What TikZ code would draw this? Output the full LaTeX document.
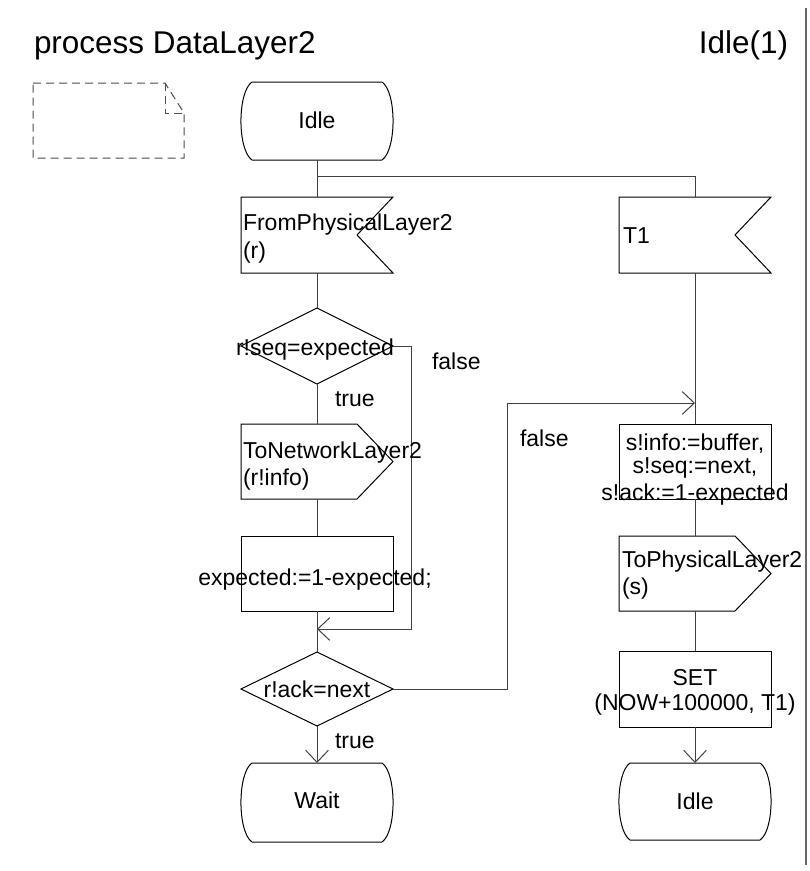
\documentclass[tikz,border=0pt]{standalone}
\usepackage{fontspec}
\setmainfont{Liberation Sans}
\usetikzlibrary{arrows.meta}
\begin{document}
\begin{tikzpicture}[x=0.75pt,y=-0.75pt,
  shp/.style={draw=black,line width=0.75pt},
  ln/.style={draw=black!75,line width=0.75pt},
  arr/.style={-{Straight Barb[length=9pt,width=17pt]}},
  ghost/.style={draw=none,rectangle,inner sep=0,outer sep=0,minimum width=114pt},
  txt/.style={inner sep=0,outer sep=0,font=\fontsize{17.25}{20}\selectfont},
  ttl/.style={inner sep=0,outer sep=0,font=\fontsize{23.6}{28}\selectfont},
  note/.style={draw=black!70,line width=0.75pt,dash pattern=on 6pt off 3.75pt}
]
\useasboundingbox (0,0) rectangle (810,871);

% shape anchors
\node[ghost,minimum height=58.5pt] (idle1) at (317,121) {};
\node[ghost,minimum height=57pt] (from) at (317,235) {};
\node[ghost,minimum height=57pt] (t1) at (695,235) {};
\node[ghost,minimum height=57pt] (dec1) at (317,346) {};
\node[ghost,minimum height=56.25pt] (tonet) at (317,461.5) {};
\node[ghost,minimum height=56.25pt] (exp) at (317,573.5) {};
\node[ghost,minimum height=55.5pt] (dec2) at (317,689) {};
\node[ghost,minimum height=59.25pt] (wait) at (317,802.5) {};
\node[ghost,minimum height=56.25pt] (tsk) at (695,461.5) {};
\node[ghost,minimum height=56.25pt] (tophys) at (695,573.5) {};
\node[ghost,minimum height=57pt] (set) at (695,689) {};
\node[ghost,minimum height=57.75pt] (idle2) at (695,801.5) {};

% outlines
\foreach \s in {idle1,wait,idle2}{
  \draw[shp] ([xshift=8.25pt]\s.north west) -- ([xshift=-8.25pt]\s.north east)
    .. controls ([xshift=2.8pt,yshift=-7.5pt]\s.north east) and ([xshift=2.8pt,yshift=7.5pt]\s.south east) .. ([xshift=-8.25pt]\s.south east)
    -- ([xshift=8.25pt]\s.south west)
    .. controls ([xshift=-2.8pt,yshift=7.5pt]\s.south west) and ([xshift=-2.8pt,yshift=-7.5pt]\s.north west) .. cycle;
}
\foreach \s in {from,t1}{
  \draw[shp] (\s.north west) -- (\s.north east) -- ([xshift=-27pt]\s.east) -- (\s.south east) -- (\s.south west) -- cycle;
}
\foreach \s in {tonet,tophys}{
  \draw[shp] (\s.north west) -- ([xshift=-27pt]\s.north east) -- (\s.east) -- ([xshift=-27pt]\s.south east) -- (\s.south west) -- cycle;
}
\foreach \s in {dec1,dec2}{
  \draw[shp] (\s.north) -- (\s.east) -- (\s.south) -- (\s.west) -- cycle;
}
\foreach \s in {exp,tsk,set}{
  \draw[shp] (\s.north west) rectangle (\s.south east);
}

% note symbol
\draw[note] (33,83) -- (165,83) -- (184,113) -- (184,158) -- (33,158) -- cycle;
\draw[note] (165,83) -- (165,113) -- (184,113);

% page border line
\draw[draw=black!60,line width=1.4pt] (806,8) -- (806,865);

% connectors
\coordinate (j1) at (317,176);
\coordinate (c1) at (411,629);
\coordinate (m1) at (317,629);
\coordinate (c2) at (507,403);
\coordinate (m2) at (695,403);
\draw[ln] (idle1.south) -- (from.north);
\draw[ln] (j1) -| (t1.north);
\draw[ln] (from.south) -- (dec1.north);
\draw[ln] (dec1.south) -- (tonet.north);
\draw[ln] (tonet.south) -- (exp.north);
\draw[ln] (exp.south) -- (dec2.north);
\draw[ln,arr] (dec1.east) -| (c1) -- (m1);
\draw[ln,arr] (dec2.east) -| (c2) -- (m2);
\draw[ln,arr] (dec2.south) -- (wait.north);
\draw[ln] (t1.south) -- (tsk.north);
\draw[ln] (tsk.south) -- (tophys.north);
\draw[ln] (tophys.south) -- (set.north);
\draw[ln,arr] (set.south) -- (idle2.north);

% texts
\node[ttl,anchor=base west] (title) at (34,53) {process DataLayer2};
\node[ttl,anchor=base east] (page) at (788,53) {Idle(1)};
\node[txt,anchor=base] (tidle1) at (317,128) {Idle};
\node[txt,anchor=base west] (tfrom1) at (243,230) {FromPhysicalLayer2};
\node[txt,anchor=base west] (tfrom2) at (243,258) {(r)};
\node[txt,anchor=base west] (tt1) at (623,243) {T1};
\node[txt,anchor=base] (tdec1) at (315,355) {r!seq=expected};
\node[txt,anchor=base west] (tfalse1) at (432,369) {false};
\node[txt,anchor=base west] (ttrue1) at (335,406) {true};
\node[txt,anchor=base west] (tnet1) at (243,458) {ToNetworkLayer2};
\node[txt,anchor=base west] (tnet2) at (243,485) {(r!info)};
\node[txt,anchor=base west] (tfalse2) at (520,446) {false};
\node[txt,anchor=base] (ttsk1) at (695,450) {s!info:=buffer,};
\node[txt,anchor=base] (ttsk2) at (695,473) {s!seq:=next,};
\node[txt,anchor=base] (ttsk3) at (695,500) {s!ack:=1-expected};
\node[txt,anchor=base] (texp) at (315,585) {expected:=1-expected;};
\node[txt,anchor=base west] (tphys1) at (622,567) {ToPhysicalLayer2};
\node[txt,anchor=base west] (tphys2) at (622,594) {(s)};
\node[txt,anchor=base] (tdec2) at (317,697) {r!ack=next};
\node[txt,anchor=base west] (ttrue2) at (335,748) {true};
\node[txt,anchor=base] (twait) at (317,808) {Wait};
\node[txt,anchor=base] (tset1) at (695,685) {SET};
\node[txt,anchor=base] (tset2) at (695,710) {(NOW+100000, T1)};
\node[txt,anchor=base] (tidle2) at (695,809) {Idle};
\end{tikzpicture}
\end{document}
